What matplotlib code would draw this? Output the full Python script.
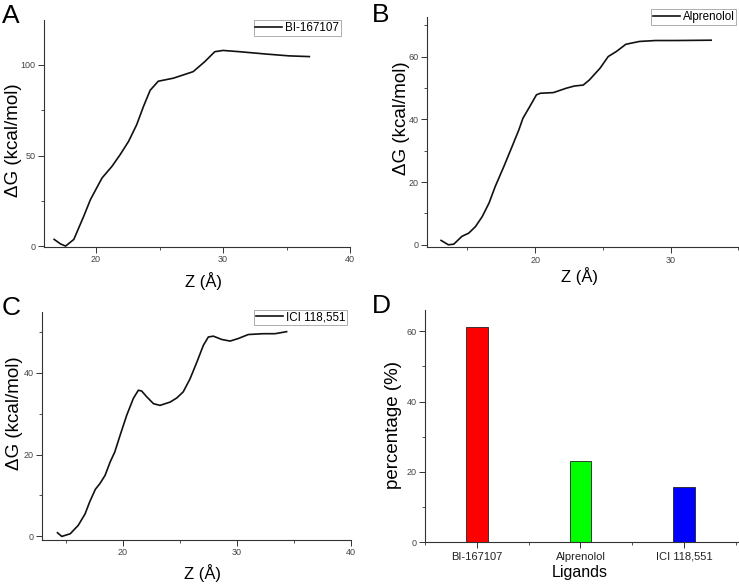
import matplotlib
matplotlib.use("Agg")
import matplotlib.pyplot as plt
from matplotlib.ticker import MultipleLocator

plt.rcParams['font.family'] = ['Liberation Sans', 'DejaVu Sans']

# Kurve A: BI-167107
z_a = [16.7, 17.2, 17.6, 18.25, 19.03, 19.56, 20.47, 21.25, 21.9, 22.56, 23.2, 23.73, 24.26,
       24.9, 26.1, 27.65, 28.56, 29.35, 30.0, 31.3, 33.4, 35.2, 36.8]
g_a = [3.7, 1.2, 0.0, 3.7, 16.5, 25.7, 37.6, 44.0, 50.5, 57.8, 67.0, 77.0, 86.0,
       91.0, 92.7, 96.3, 101.8, 107.3, 108.0, 107.3, 106.0, 105.0, 104.6]

# Kurve B: Alprenolol
z_b = [13.06, 13.6, 14.0, 14.6, 15.1, 15.6, 16.1, 16.6, 17.06, 17.7, 18.3, 18.8, 19.1,
       19.6, 20.1, 20.4, 21.35, 22.3, 22.9, 23.55, 24.0, 24.8, 25.4, 26.0, 26.7, 27.7,
       28.9, 30.4, 33.0]
g_b = [1.4, 0.0, 0.2, 2.7, 3.7, 5.8, 9.0, 13.3, 18.6, 25.0, 31.3, 36.6, 40.3,
       44.0, 47.8, 48.3, 48.5, 49.9, 50.6, 50.9, 52.5, 56.3, 60.0, 61.6, 63.9, 64.8,
       65.1, 65.1, 65.2]

# Kurve C: ICI 118,551
z_c = [14.28, 14.66, 15.4, 16.1, 16.7, 17.1, 17.6, 18.0, 18.45, 18.9, 19.3, 19.77,
       20.35, 20.93, 21.37, 21.66, 22.1, 22.7, 23.27, 24.15, 24.73, 25.3, 25.9, 26.5,
       27.07, 27.5, 27.94, 28.67, 29.4, 30.1, 31.0, 32.3, 33.34, 34.36]
g_c = [0.9, 0.0, 0.65, 2.7, 5.5, 8.4, 11.5, 12.9, 14.9, 18.2, 20.6, 24.7,
       29.6, 33.7, 35.7, 35.5, 34.1, 32.4, 32.0, 32.8, 33.8, 35.3, 38.5, 42.6,
       46.7, 48.7, 48.9, 48.1, 47.7, 48.3, 49.3, 49.5, 49.5, 50.0]

# Balken D
ligands = ['BI-167107', 'Alprenolol', 'ICI 118,551']
percent = [61.2, 23.1, 15.7]
bar_colors = ['#ff0000', '#00ff00', '#0000ff']

W, H = 739, 584
fig = plt.figure(figsize=(W / 100, H / 100), dpi=100)


def rect(left, top, right, bottom):
    return [left / W, 1 - bottom / H, (right - left) / W, (bottom - top) / H]


def style(ax):
    for s in ['top', 'right']:
        ax.spines[s].set_visible(False)
    for s in ['left', 'bottom']:
        ax.spines[s].set_color('#333333')
        ax.spines[s].set_linewidth(0.8)
    ax.tick_params(which='major', direction='out', length=4, width=0.7,
                   labelsize=6.5, labelcolor='#444444', color='#333333', pad=2)
    ax.tick_params(which='minor', direction='out', length=2.5, width=0.6, color='#333333')


def curve_panel(ax, z, g, label, xlim, ylim, ymaj, xticks, anchor, xl, yl):
    ax.plot(z, g, color='#111111', lw=1.2, label=label)
    ax.set_xlim(*xlim)
    ax.set_ylim(*ylim)
    ax.set_xticks(xticks)
    ax.xaxis.set_minor_locator(MultipleLocator(5))
    ax.yaxis.set_major_locator(MultipleLocator(ymaj))
    ax.yaxis.set_minor_locator(MultipleLocator(ymaj / 2))
    style(ax)
    ax.set_xlabel('Z (Å)', fontsize=12)
    ax.set_ylabel('ΔG (kcal/mol)', fontsize=13.5)
    ax.xaxis.set_label_coords(*xl)
    ax.yaxis.set_label_coords(*yl)
    leg = ax.legend(loc='upper right', bbox_to_anchor=anchor, fontsize=8.4,
                    fancybox=False, borderpad=0.15, handlelength=2.3,
                    handletextpad=0.25, borderaxespad=0)
    leg.get_frame().set_edgecolor('#888888')
    leg.get_frame().set_linewidth(0.6)


ax_a = fig.add_axes(rect(44, 20, 350, 247))
curve_panel(ax_a, z_a, g_a, 'BI-167107', (15.9, 40), (-0.5, 124.8), 50, [20, 30, 40],
            (0.97, 1.0), (0.52, -0.11), (-0.072, 0.47))

ax_b = fig.add_axes(rect(426.7, 17.3, 738.3, 247.3))
curve_panel(ax_b, z_b, g_b, 'Alprenolol', (12.0, 35.0), (-0.8, 72.5), 20, [20, 30],
            (0.993, 1.035), (0.49, -0.086), (-0.054, 0.56))

ax_c = fig.add_axes(rect(41.7, 312, 351, 539.7))
curve_panel(ax_c, z_c, g_c, 'ICI 118,551', (12.9, 40), (-0.8, 54.8), 20, [20, 30, 40],
            (0.987, 1.01), (0.52, -0.105), (-0.06, 0.556))

ax_d = fig.add_axes(rect(425, 310.3, 738, 542))
pos = range(1, len(ligands) + 1)
ax_d.bar(pos, percent, width=0.21, color=bar_colors, edgecolor='#222222', linewidth=0.6)
ax_d.set_xlim(0.5, 3.52)
ax_d.set_ylim(0, 66)
ax_d.set_xticks(list(pos))
ax_d.set_xticklabels(ligands)
ax_d.xaxis.set_minor_locator(MultipleLocator(0.5))
ax_d.yaxis.set_major_locator(MultipleLocator(20))
ax_d.yaxis.set_minor_locator(MultipleLocator(10))
style(ax_d)
ax_d.tick_params(axis='x', which='major', labelsize=8, labelcolor='#222222', pad=3)
ax_d.set_xlabel('Ligands', fontsize=11.5)
ax_d.set_ylabel('percentage (%)', fontsize=13.5)
ax_d.xaxis.set_label_coords(0.495, -0.1)
ax_d.yaxis.set_label_coords(-0.073, 0.507)

# Panel-Buchstaben
for letter, x, y in [('A', 2, 23), ('B', 372, 22), ('C', 2, 315), ('D', 372, 313)]:
    fig.text(x / W, 1 - y / H, letter, fontsize=19, ha='left', va='baseline')

fig.savefig('out.png', dpi=100)
